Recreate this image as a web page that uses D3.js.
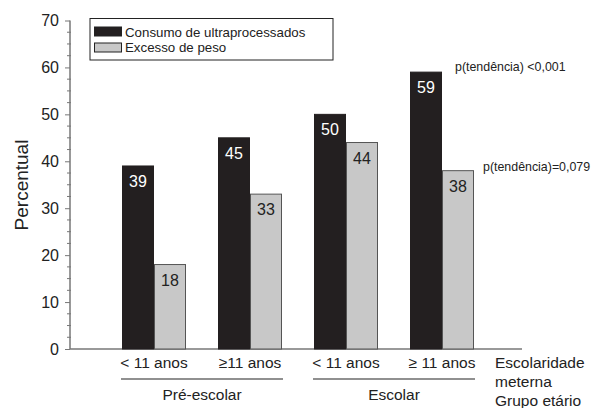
<!DOCTYPE html>
<html><head><meta charset="utf-8">
<script src="https://cdn.jsdelivr.net/npm/d3@7"></script>
<style>body{margin:0;background:#fff}svg{display:block}</style>
</head><body><svg id="c" width="595" height="408" font-family="Liberation Sans, Arial, sans-serif"></svg>
<script>
const groups = ["Pré-escolar <11", "Pré-escolar >=11", "Escolar <11", "Escolar >=11"];
const tickLabels = ["< 11 anos", "≥11 anos", "< 11 anos", "≥ 11 anos"];
const series = ["Consumo de ultraprocessados", "Excesso de peso"];
const ultraprocessados = [39, 45, 50, 59];
const excessoPeso = [18, 33, 44, 38];
const yTicks = [0, 10, 20, 30, 40, 50, 60, 70];
const ageGroups = [{name: "Pré-escolar", from: 0, to: 1}, {name: "Escolar", from: 2, to: 3}];
const pValues = ["p(tendência) <0,001", "p(tendência)=0,079"];

const svg = d3.select("#c");
const y = d3.scaleLinear().domain([0, 70]).range([349, 20.5]);
const x = d3.scaleBand().domain(groups).range([122, 474]).paddingInner(1/3).paddingOuter(0);
const xs = d3.scaleBand().domain(series).range([0, x.bandwidth()]);
const colors = ["#231f20", "#c8c8c8"];
const strokes = ["#231f20", "#555"];
const axisCol = "#777";

// minor ticks
const minor = d3.range(0, 70.01, 2.5).filter(v => v % 10 !== 0);
svg.append("g").selectAll("line").data(minor).join("line")
  .attr("x1", 67).attr("x2", 71).attr("y1", d => y(d)).attr("y2", d => y(d))
  .attr("stroke", axisCol).attr("stroke-width", 1);

const yAxis = svg.append("g").attr("transform", "translate(70,0)")
  .call(d3.axisLeft(y).tickValues(yTicks).tickSize(5).tickPadding(6));
yAxis.attr("font-family", null);
yAxis.select(".domain").attr("stroke", axisCol).attr("stroke-width", 1.5).attr("d", `M0,${y(70)}V${y(0)}`);
yAxis.selectAll(".tick line").attr("stroke", axisCol);
yAxis.selectAll(".tick text").attr("font-size", 16).attr("fill", "#222");

// x axis line
svg.append("line").attr("x1", 70).attr("x2", 522).attr("y1", y(0)).attr("y2", y(0))
  .attr("stroke", axisCol).attr("stroke-width", 1.5);

// bars
const data = groups.map((g, i) => ({g, vals: [ultraprocessados[i], excessoPeso[i]]}));
const gg = svg.append("g").selectAll("g").data(data).join("g")
  .attr("transform", d => `translate(${x(d.g)},0)`);
gg.selectAll("rect").data(d => d.vals.map((v, j) => ({v, j}))).join("rect")
  .attr("x", d => xs(series[d.j]) + 0.5).attr("width", xs.bandwidth() - 1)
  .attr("y", d => y(d.v)).attr("height", d => y(0) - y(d.v))
  .attr("fill", d => colors[d.j]).attr("stroke", d => strokes[d.j]).attr("stroke-width", 1);
gg.selectAll("text").data(d => d.vals.map((v, j) => ({v, j}))).join("text")
  .attr("x", d => xs(series[d.j]) + xs.bandwidth() / 2).attr("y", d => y(d.v) + 21)
  .attr("text-anchor", "middle").attr("font-size", 16)
  .attr("fill", d => d.j === 0 ? "#fff" : "#222").text(d => d.v);

// x tick labels
svg.append("g").selectAll("text").data(groups).join("text")
  .attr("x", (d) => x(d) + x.bandwidth() / 2).attr("y", 368)
  .attr("text-anchor", "middle").attr("font-size", 15.5).attr("fill", "#222")
  .text((d, i) => tickLabels[i]);

// age group lines & labels
const ag = svg.append("g").selectAll("g").data(ageGroups).join("g");
ag.append("line")
  .attr("x1", d => x(groups[d.from]) - 1).attr("x2", d => x(groups[d.to]) + x.bandwidth() + 1)
  .attr("y1", 379).attr("y2", 379).attr("stroke", "#222").attr("stroke-width", 1.2);
ag.append("text")
  .attr("x", d => (x(groups[d.from]) + x(groups[d.to]) + x.bandwidth()) / 2).attr("y", 400)
  .attr("text-anchor", "middle").attr("font-size", 15.5).attr("fill", "#222").text(d => d.name);

// right labels
svg.append("g").selectAll("text").data(["Escolaridade", "meterna", "Grupo etário"]).join("text")
  .attr("x", 495).attr("y", (d, i) => [368, 387, 406][i]).attr("font-size", 15.5).attr("fill", "#222").text(d => d);

// y title
svg.append("text").attr("transform", "translate(28,185) rotate(-90)")
  .attr("text-anchor", "middle").attr("font-size", 19).attr("fill", "#222").text("Percentual");

// legend
const lg = svg.append("g");
lg.append("rect").attr("x", 90).attr("y", 18.5).attr("width", 243).attr("height", 41.5)
  .attr("fill", "#fff").attr("stroke", "#222").attr("stroke-width", 1);
series.forEach((s, i) => {
  lg.append("rect").attr("x", 94.5).attr("y", 27 + i * 16).attr("width", 27).attr("height", 9)
    .attr("fill", colors[i]).attr("stroke", "#222").attr("stroke-width", 1);
  lg.append("text").attr("x", 125).attr("y", 36.5 + i * 15).attr("font-size", 13.3).attr("fill", "#222").text(s);
});

// p-values
svg.append("text").attr("x", 455).attr("y", y(ultraprocessados[3]) - 1.5).attr("font-size", 12.4).attr("fill", "#222").text(pValues[0]);
svg.append("text").attr("x", 483).attr("y", y(excessoPeso[3]) + 0.5).attr("font-size", 12.4).attr("fill", "#222").text(pValues[1]);
</script></body></html>
